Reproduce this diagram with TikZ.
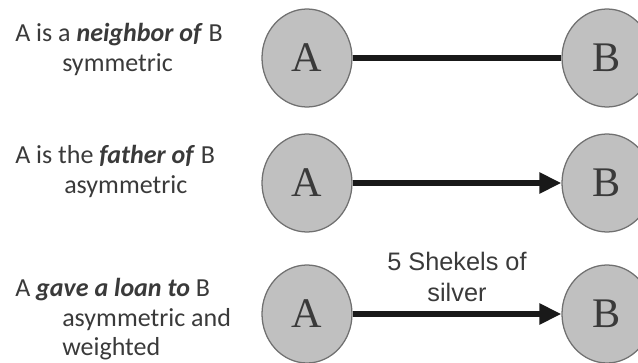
\documentclass[tikz,border=0pt]{standalone}
\usepackage{fontspec}
\setmainfont{Carlito}
\newfontfamily\weightfont{Liberation Sans}
\newfontfamily\actorfont{Liberation Serif}
\usetikzlibrary{positioning,shapes.geometric,arrows.meta}

\definecolor{actorfill}{RGB}{192,192,192}
\definecolor{actorrim}{RGB}{112,112,112}
\definecolor{inkgray}{RGB}{58,58,58}

\newcommand{\rel}[1]{\textbf{\textit{#1}}}

\begin{document}
\begin{tikzpicture}[>={Triangle[length=0.55cm,width=0.5cm]},
    actor/.style={ellipse, draw=actorrim, line width=0.9pt, fill=actorfill,
        minimum width=2.25cm, minimum height=2.45cm, inner sep=0pt,
        text=inkgray, font=\actorfont\fontsize{30}{30}\selectfont},
    tie/.style={line width=4pt, draw=black!90},
    caption/.style={anchor=north west, align=left, inner sep=0pt,
        text=inkgray, font=\fontsize{18.5}{21}\selectfont},
    weight/.style={align=center, inner sep=0pt, text=inkgray,
        font=\weightfont\fontsize{18}{21.5}\selectfont}]

    \useasboundingbox (0,0) rectangle (15.95,9.05);

    % neighbour: plain line
    \node[caption] (txtN) at (0.375,8.475) {A is a \rel{neighbor of} B\\\hspace*{1.175cm}symmetric};
    \node[actor] (A1) at (7.675,7.6) {A};
    \node[actor] (B1) at (15.175,7.6) {B};
    \draw[tie] (A1) -- (B1);

    % father: arrow
    \node[caption] (txtF) at (0.375,5.425) {A is the \rel{father of} B\\\hspace*{1.225cm}asymmetric};
    \node[actor] (A2) at (7.675,4.475) {A};
    \node[actor] (B2) at (15.175,4.475) {B};
    \draw[tie,->] (A2) -- (B2);

    % loan: arrow with weight
    \node[caption] (txtL) at (0.375,2.1) {A \rel{gave a loan to} B\\\hspace*{1.175cm}asymmetric and\\\hspace*{1.175cm}weighted};
    \node[actor] (A3) at (7.675,1.2) {A};
    \node[actor] (B3) at (15.175,1.2) {B};
    \draw[tie,->] (A3) -- node[midway, above=7pt, weight] (amount) {5 Shekels of\\silver} (B3);

\end{tikzpicture}
\end{document}
